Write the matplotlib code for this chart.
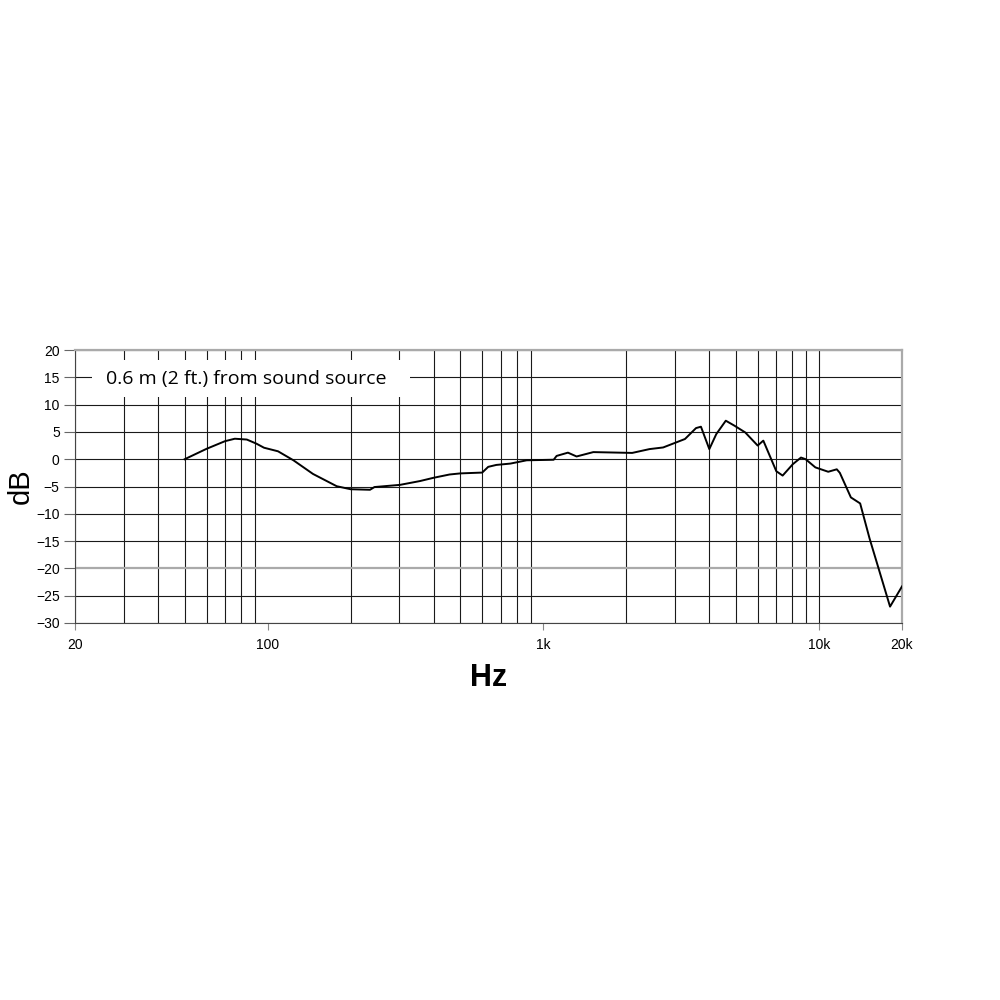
""" Frequency response chart

"""

# --------------------------------------------------
#   Imports
# --------------------------------------------------

import matplotlib
matplotlib.use("Agg")
import matplotlib.pyplot as plt
from matplotlib.patches import Rectangle
from matplotlib.ticker import FixedLocator, NullFormatter


# --------------------------------------------------
#   Data
# --------------------------------------------------

freq_hz = [50, 60, 70, 76, 84, 91, 97, 109, 124, 146, 178, 200, 235, 244,
           302, 357, 400, 457, 500, 600, 631, 675, 760, 870, 1090, 1117,
           1228, 1320, 1518, 2100, 2427, 2720, 3264, 3580, 3730, 4000, 4240,
           4590, 4930, 5400, 5990, 6280, 7000, 7380, 8040, 8600, 8940, 9700,
           10800, 11600, 11900, 13050, 14100, 15250, 18100, 20000]
level_db = [0, 1.9, 3.3, 3.75, 3.6, 2.85, 2.1, 1.45, -0.2, -2.7, -4.95, -5.5,
            -5.6, -5.1, -4.7, -4.0, -3.4, -2.8, -2.6, -2.45, -1.4, -1.05, -0.8,
            -0.2, -0.1, 0.6, 1.2, 0.5, 1.3, 1.15, 1.85, 2.15, 3.7, 5.7, 5.95,
            1.85, 4.6, 7.05, 6.15, 4.9, 2.5, 3.4, -2.2, -3.0, -0.9, 0.3, 0.0,
            -1.5, -2.3, -1.85, -2.5, -7.0, -8.1, -14.5, -27.0, -23.3]

x_major = [20, 100, 1000, 10000, 20000]
x_major_labels = ["20", "100", "1k", "10k", "20k"]
x_grid = [m * d for d in (10, 100, 1000) for m in range(2, 10)] + [10000, 20000]
y_ticks = list(range(-30, 25, 5))
caption = "0.6 m (2 ft.) from sound source"


# --------------------------------------------------
#   Plot
# --------------------------------------------------

plt.rcParams["font.family"] = ["Liberation Sans", "DejaVu Sans"]

fig = plt.figure(figsize=(10, 10), dpi=100)
ax = fig.add_axes([0.075, 0.377, 0.827, 0.273])

ax.set_xscale("log")
ax.set_xlim(20, 20000)
ax.set_ylim(-30, 20)
ax.set_axisbelow(True)

# grid lines
for f in x_grid:
    ax.axvline(f, color="#1a1a1a", lw=0.8, zorder=0.5)
for v in y_ticks:
    col = "#aaaaaa" if v == -20 else "#1a1a1a"
    lw = 1.6 if v == -20 else 0.8
    ax.axhline(v, color=col, lw=lw, zorder=0.5)

ax.xaxis.set_major_locator(FixedLocator(x_major))
ax.xaxis.set_minor_locator(FixedLocator([]))
ax.xaxis.set_minor_formatter(NullFormatter())
ax.set_xticklabels(x_major_labels)
ax.set_yticks(y_ticks)
ax.tick_params(axis="x", length=5, width=0.8, color="#888888", labelsize=10, pad=6)
ax.tick_params(axis="y", length=8, width=0.8, color="#666666", labelsize=10, pad=3)

for side in ("top", "right"):
    ax.spines[side].set_color("#aaaaaa")
    ax.spines[side].set_linewidth(1.6)
for side in ("left", "bottom"):
    ax.spines[side].set_color("#444444")
    ax.spines[side].set_linewidth(0.8)

# caption box
ax.add_patch(Rectangle((0.021, 0.828), 0.384, 0.135, transform=ax.transAxes,
                       facecolor="white", edgecolor="none", zorder=2))
ax.text(0.207, 0.895, caption, transform=ax.transAxes, ha="center", va="center",
        fontsize=14, family=["Open Sans", "DejaVu Sans"], zorder=3)

ax.plot(freq_hz, level_db, color="black", lw=1.4, zorder=4)

ax.set_ylabel("dB", fontsize=21)
ax.yaxis.set_label_coords(-0.049, 0.5)
ax.set_xlabel("Hz", fontsize=22, fontweight="bold")
ax.xaxis.set_label_coords(0.5, -0.147)

fig.savefig("out.png", dpi=100, facecolor="white")
